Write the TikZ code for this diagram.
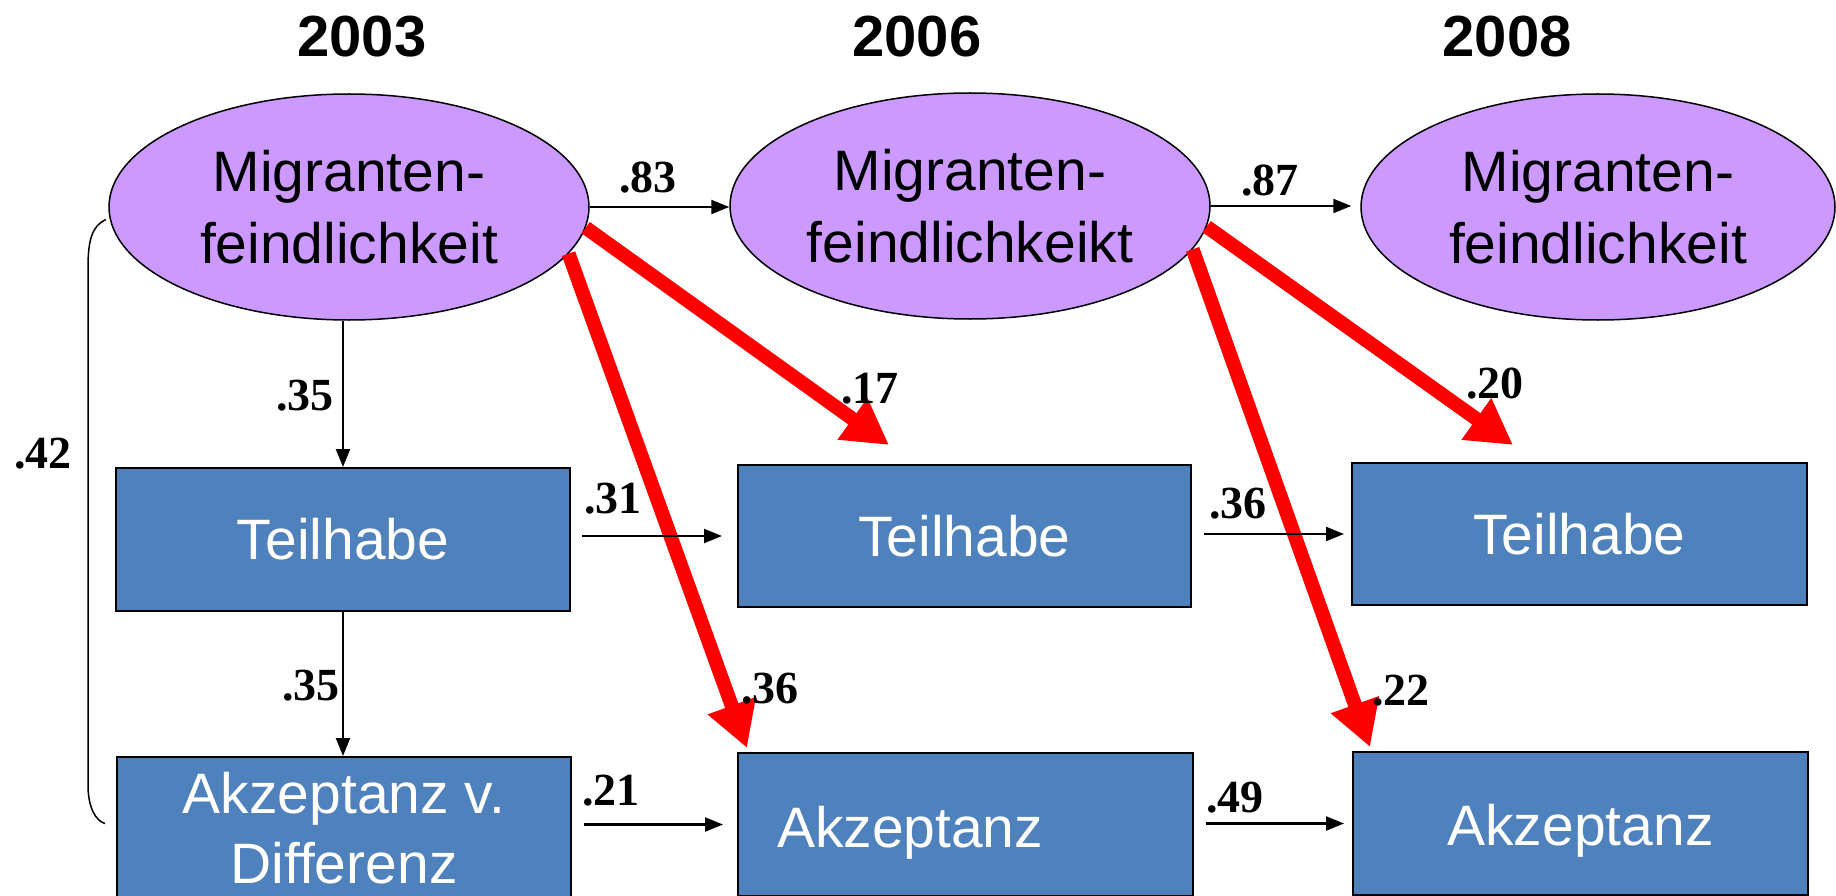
\documentclass[tikz,border=0pt]{standalone}
\usepackage{fontspec}
\setmainfont{Liberation Sans}
\newfontfamily\lblfont{Liberation Serif}
\usetikzlibrary{arrows.meta, shapes.geometric}
\definecolor{latfill}{RGB}{204,153,255}
\definecolor{obsfill}{RGB}{79,129,189}
\tikzset{
  latent/.style={ellipse, draw=black, line width=1.5pt, fill=latfill,
    minimum width=480pt, minimum height=226pt, inner sep=0pt, align=center,
    font=\fontsize{57}{72}\selectfont},
  obsbox/.style={rectangle, draw=black, line width=2pt, fill=obsfill, text=white,
    minimum width=454pt, minimum height=143pt, inner sep=0pt, align=center,
    font=\fontsize{57}{70}\selectfont},
  yearlbl/.style={font=\fontsize{58}{60}\selectfont\bfseries, anchor=base},
  coef/.style={font=\lblfont\fontsize{46}{48}\selectfont\bfseries, anchor=base},
  arr/.style={-{Triangle[length=18pt,width=14pt]}, line width=2.2pt},
  redarr/.style={-{Triangle[length=45pt,width=48pt]}, line width=14pt, draw=red},
  corr/.style={line width=1.5pt}
}
\begin{document}
\begin{tikzpicture}[x=1pt,y=-1pt]
\useasboundingbox (0,0) rectangle (1836,896);

% years
\node[yearlbl] (y1) at (362,57) {2003};
\node[yearlbl] (y2) at (917,57) {2006};
\node[yearlbl] (y3) at (1507,57) {2008};

% latent variables
\node[latent] (e1) at (349,207) {Migranten-\\feindlichkeit};
\node[latent] (e2) at (970,206) {Migranten-\\feindlichkeikt};
\node[latent, minimum width=474pt] (e3) at (1598,207) {Migranten-\\feindlichkeit};

% observed variables
\node[obsbox] (t1) at (343,539.5) {Teilhabe};
\node[obsbox, minimum width=453pt, minimum height=142pt] (t2) at (964.5,536) {Teilhabe};
\node[obsbox, minimum width=455pt, minimum height=142pt] (t3) at (1579.5,534) {Teilhabe};
\node[obsbox] (a1) at (344,828.5) {Akzeptanz v.\\Differenz};
\node[obsbox, minimum width=455pt, text width=377pt, inner xsep=38pt, align=left,
      text height=57pt, text depth=12pt] (a2) at (965.5,824.5) {Akzeptanz};
\node[obsbox, minimum width=455pt, text height=55pt, text depth=12pt] (a3) at (1580.5,823.5) {Akzeptanz};

% red cross-lagged paths
\coordinate (r1) at (889,445);
\coordinate (r2) at (747,748);
\coordinate (r3) at (1513,445);
\coordinate (r4) at (1370,747);
\draw[redarr] (e1.-5.5) -- (r1);
\draw[redarr] (e1.-12) -- (r2);
\draw[redarr] (e2.-5.7) -- (r3);
\draw[redarr] (e2.-11) -- (r4);

% black paths
\draw[arr] (e1.east) -- (e1.east -| e2.west);
\draw[arr, shorten >=9pt] (e2.east) -- (e2.east -| e3.west);
\draw[arr] (t1.north |- e1.south) -- (t1.north);
\draw[arr] (t1.south) -- (t1.south |- a1.north);
\draw[arr, shorten <=11pt, shorten >=15pt] (t1.east |- t2.west) -- (t2.west);
\draw[arr, shorten <=12pt, shorten >=7pt] (t2.east |- t3.west) -- (t3.west);
\draw[arr, shorten <=12pt, shorten >=14pt] (a1.east |- a2.west) -- (a2.west);
\draw[arr, shorten <=12pt, shorten >=8pt] (a2.east |- a3.west) -- (a3.west);

% correlation bracket
\draw[corr] ([xshift=-4pt]e1.183) .. controls (92,226) and (88,240) .. (88,268)
  -- (88,785) .. controls (88,808) and (96,821) .. ([xshift=-11pt,yshift=5pt]a1.west);

% coefficients
\node[coef] (c83) at (648,193) {.83};
\node[coef] (c87) at (1270,196) {.87};
\node[coef] (c35a) at (305,410) {.35};
\node[coef] (c17) at (870,403) {.17};
\node[coef] (c20) at (1495,398) {.20};
\node[coef] (c42) at (43,468) {.42};
\node[coef] (c31) at (613,513) {.31};
\node[coef] (c36a) at (1238,518) {.36};
\node[coef] (c35b) at (311,700) {.35};
\node[coef] (c36b) at (770,703) {.36};
\node[coef] (c22) at (1401,705) {.22};
\node[coef] (c21) at (611,805) {.21};
\node[coef] (c49) at (1235,812) {.49};
\end{tikzpicture}
\end{document}
